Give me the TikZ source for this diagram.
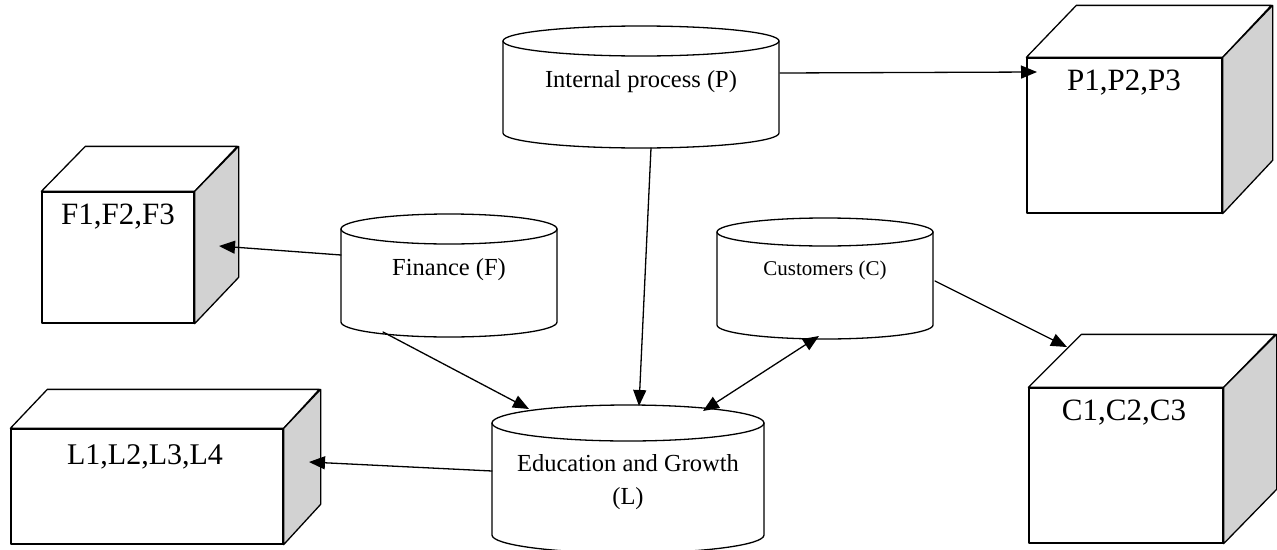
\documentclass[tikz,border=0pt]{standalone}
\usepackage{fontspec}
\setmainfont{Liberation Serif}
\usepackage{tikz}
\usetikzlibrary{arrows.meta}
\definecolor{sidegray}{HTML}{D2D2D2}

\begin{document}
\begin{tikzpicture}[x=1pt,y=-1pt,every path/.style={line cap=round, line join=round}]

        \tikzset{drum/.style = {draw, line width=1.3pt, fill=white}}
        \tikzset{face/.style = {draw, line width=1.3pt, fill=white, inner sep=0pt}}
        \tikzset{side/.style = {draw, line width=1.3pt, fill=sidegray}}
        \tikzset{drumtext/.style = {font=\fontsize{24.5}{33}\selectfont, align=center}}
        \tikzset{boxtext/.style = {font=\fontsize{31}{34}\selectfont}}
        \tikzset{edge/.style = {line width=1.3pt, -{Triangle[length=16pt,width=13pt]}}}

        \useasboundingbox (0,0) rectangle (1277,549);

        % cubes
        \node[face, minimum width=152pt, minimum height=131pt] (fbox) at (118,257.5) {};
        \draw[face] (fbox.north west) -- ++(44,-45) -- ++(152,0) -- (fbox.north east) -- cycle;
        \draw[side] (fbox.north east) -- ++(44,-45) -- ++(0,131) -- (fbox.south east) -- cycle;
        \node[boxtext] (ftxt) at (118,217) {F1,F2,F3};

        \node[face, minimum width=195pt, minimum height=155pt] (pbox) at (1124.5,135.5) {};
        \draw[face] (pbox.north west) -- ++(50,-52) -- ++(195,0) -- (pbox.north east) -- cycle;
        \draw[side] (pbox.north east) -- ++(50,-52) -- ++(0,155) -- (pbox.south east) -- cycle;
        \node[boxtext] (ptxt) at (1124,83) {P1,P2,P3};

        \node[face, minimum width=272pt, minimum height=115pt] (lbox) at (147,486.5) {};
        \draw[face] (lbox.north west) -- ++(37,-39) -- ++(272,0) -- (lbox.north east) -- cycle;
        \draw[side] (lbox.north east) -- ++(37,-39) -- ++(0,115) -- (lbox.south east) -- cycle;
        \node[boxtext, font=\fontsize{30}{34}\selectfont] (ltxt) at (145,457) {L1,L2,L3,L4};

        \node[face, minimum width=194pt, minimum height=155pt] (cbox) at (1126,465.5) {};
        \draw[face] (cbox.north west) -- ++(53,-53) -- ++(194,0) -- (cbox.north east) -- cycle;
        \draw[side] (cbox.north east) -- ++(53,-53) -- ++(0,155) -- (cbox.south east) -- cycle;
        \node[boxtext] (ctxt) at (1124,413) {C1,C2,C3};

        % cylinders
        \draw[drum] (503,41) -- (503,133) arc[start angle=180, end angle=360, x radius=138pt, y radius=15pt] -- (779,41);
        \draw[drum] (641,41) ellipse [x radius=138pt, y radius=15pt];
        \node[drumtext] (pdrum) at (641,82) {Internal process (P)};

        \draw[drum] (341,229) -- (341,322) arc[start angle=180, end angle=360, x radius=108pt, y radius=15pt] -- (557,229);
        \draw[drum] (449,229) ellipse [x radius=108pt, y radius=15pt];
        \node[drumtext] (fdrum) at (449,270) {Finance (F)};

        \draw[drum] (717,232) -- (717,325) arc[start angle=180, end angle=360, x radius=108pt, y radius=14pt] -- (933,232);
        \draw[drum] (825,232) ellipse [x radius=108pt, y radius=14pt];
        \node[drumtext, font=\fontsize{21}{25}\selectfont] (cdrum) at (825,270) {Customers (C)};

        \draw[drum] (492,423) -- (492,535) arc[start angle=180, end angle=360, x radius=136pt, y radius=18pt] -- (764,423);
        \draw[drum] (628,423) ellipse [x radius=136pt, y radius=18pt];
        \node[drumtext] (ldrum) at (628,482) {Education and Growth\\(L)};

        % arrow ends
        \coordinate (pout) at (780,73);
        \coordinate (pin) at (1037,72);
        \coordinate (pdown) at (651,148);
        \coordinate (ltop1) at (639,406);
        \coordinate (fout) at (341,255);
        \coordinate (fin) at (219,246);
        \coordinate (fdown) at (383,332);
        \coordinate (ltop2) at (529,409);
        \coordinate (ltop3) at (703,411);
        \coordinate (cdown) at (819,336);
        \coordinate (cout) at (935,281);
        \coordinate (cin) at (1067,347);
        \coordinate (lout) at (492,471);
        \coordinate (lin) at (309,462);

        \draw[edge] (pout) -- (pin);
        \draw[edge] (pdown) -- (ltop1);
        \draw[edge] (fout) -- (fin);
        \draw[edge] (fdown) -- (ltop2);
        \draw[edge, {Triangle[length=16pt,width=13pt]}-{Triangle[length=16pt,width=13pt]}] (ltop3) -- (cdown);
        \draw[edge] (cout) -- (cin);
        \draw[edge] (lout) -- (lin);
\end{tikzpicture}
\end{document}
